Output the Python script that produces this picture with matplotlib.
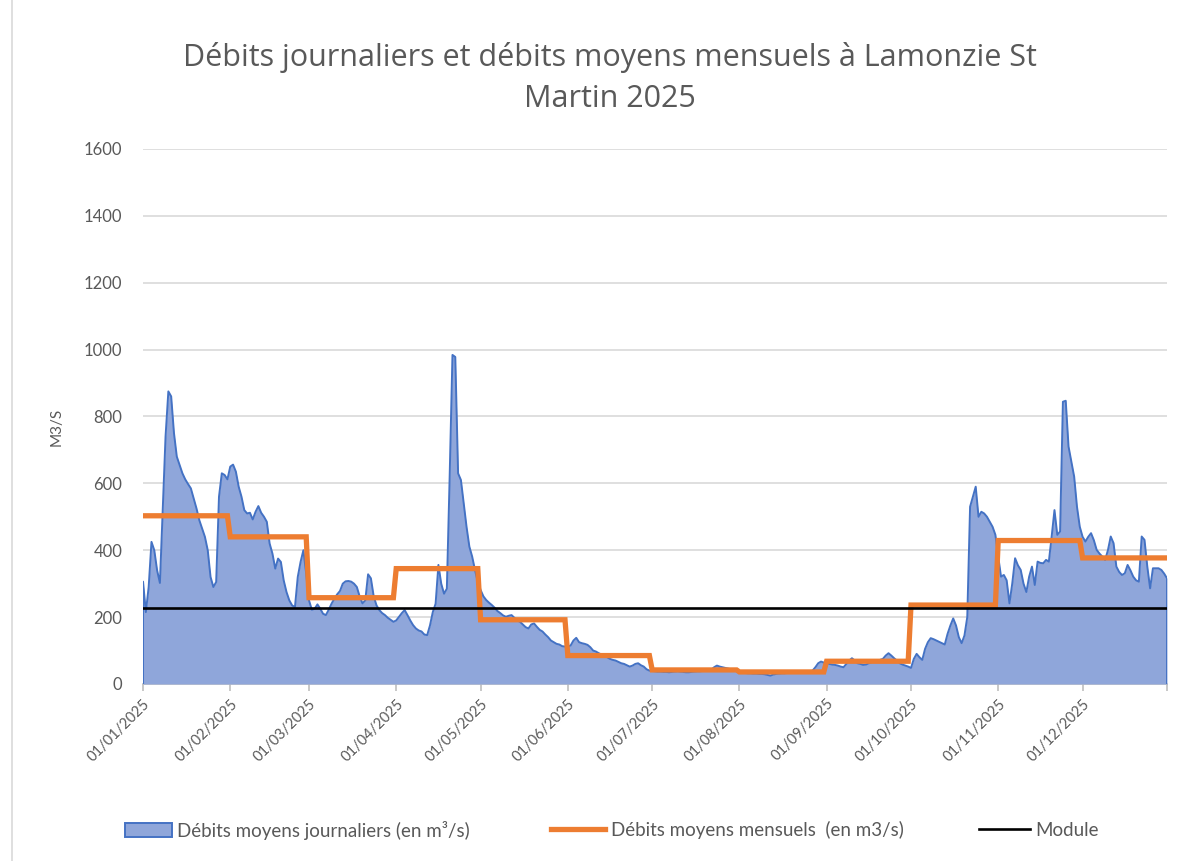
import numpy as np
import matplotlib
matplotlib.use("Agg")
import matplotlib.pyplot as plt
import matplotlib.transforms as mtransforms
from matplotlib.patches import Patch
from matplotlib.lines import Line2D

plt.rcParams['font.family'] = ['Lato', 'DejaVu Sans']

# Daily mean flows (m3/s), 2025
jan = [306, 215, 290, 425, 400, 340, 302, 520, 740, 875, 860, 750, 680, 655, 630, 612,
       598, 585, 555, 525, 490, 465, 440, 400, 320, 290, 305, 560, 630, 625, 612]
feb = [650, 656, 635, 590, 560, 520, 510, 512, 492, 515, 532, 512, 500, 485, 420, 390,
       345, 375, 365, 310, 275, 250, 235, 230, 320, 365, 400, 330]
mar = [250, 222, 225, 238, 225, 210, 206, 222, 240, 255, 268, 278, 300, 307, 308, 306,
       300, 290, 262, 241, 250, 328, 316, 262, 235, 221, 212, 206, 198, 192, 186]
apr = [190, 201, 212, 221, 206, 190, 176, 166, 160, 157, 148, 146, 175, 215, 240, 356,
       300, 270, 285, 620, 984, 978, 630, 610, 540, 470, 411, 381, 341, 305]
may = [281, 262, 251, 243, 236, 228, 218, 212, 205, 201, 204, 206, 198, 190, 186, 178,
       170, 166, 178, 181, 171, 162, 157, 148, 140, 130, 125, 120, 118, 113, 112]
jun = [112, 115, 130, 138, 125, 122, 120, 117, 110, 100, 97, 92, 88, 85, 80, 75,
       72, 70, 66, 62, 60, 56, 52, 55, 60, 62, 56, 52, 44, 40]
jul = [39, 38, 37, 37, 36, 36, 35, 36, 37, 38, 37, 36, 35, 35, 36, 37,
       38, 38, 39, 40, 41, 43, 50, 55, 52, 50, 48, 46, 44, 40, 38]
aug = [37, 35, 33, 32, 32, 31, 31, 30, 30, 29, 27, 25, 28, 30, 31, 32,
       32, 33, 33, 34, 34, 35, 35, 36, 36, 37, 40, 50, 62, 67, 64]
sep = [62, 60, 58, 57, 55, 52, 50, 60, 70, 77, 70, 62, 60, 57, 58, 62,
       65, 67, 70, 72, 75, 85, 92, 85, 77, 70, 62, 58, 55, 52]
octo = [48, 75, 90, 80, 72, 105, 125, 137, 134, 130, 126, 122, 118, 150, 175, 196,
        175, 140, 122, 145, 200, 530, 560, 590, 500, 515, 510, 500, 485, 470, 446]
nov = [381, 321, 326, 310, 241, 301, 376, 355, 341, 300, 275, 321, 351, 296, 366, 362,
       361, 371, 366, 441, 520, 446, 456, 844, 847, 710, 665, 620, 530, 470]
dec = [440, 426, 440, 451, 430, 401, 390, 381, 371, 400, 441, 421, 351, 335, 326, 331,
       356, 340, 321, 310, 306, 441, 431, 351, 286, 346, 346, 346, 341, 330, 316]

monthly_means = [503, 440, 258, 345, 192, 85, 42, 36, 68, 236, 429, 377]
module = 228

tick_labels = ["01/01/2025", "01/02/2025", "01/03/2025", "01/04/2025", "01/05/2025",
               "01/06/2025", "01/07/2025", "01/08/2025", "01/09/2025", "01/10/2025",
               "01/11/2025", "01/12/2025"]

months = [jan, feb, mar, apr, may, jun, jul, aug, sep, octo, nov, dec]
daily = np.concatenate([np.array(m, dtype=float) for m in months])
lengths = [len(m) for m in months]
starts = np.concatenate([[0], np.cumsum(lengths)[:-1]])
x = np.arange(len(daily))
monthly_daily = np.repeat(monthly_means, lengths)

gray_txt = '#595959'
fill_col = '#8FA6DA'
fig = plt.figure(figsize=(12, 8.61), dpi=100)
ax = fig.add_axes([0.1192, 0.2056, 0.8533, 0.6214])

# chart border (left edge visible)
fig.add_artist(Line2D([0.010, 0.010], [0, 1], transform=fig.transFigure,
                      color='#D9D9D9', lw=1.2))

ax.fill_between(x, daily, 0, color=fill_col, linewidth=0, zorder=2)
ax.plot(np.r_[x[0], x, x[-1]], np.r_[0, daily, 0], color='#4472C4', lw=1.4, zorder=3)
ax.plot(x, monthly_daily, color='#ED7D31', lw=3.8, zorder=4, solid_joinstyle='miter')
ax.axhline(module, color='black', lw=1.9, zorder=5)

ax.set_xlim(0, len(daily) - 1)
ax.set_ylim(0, 1600)
ax.set_yticks(np.arange(0, 1601, 200))
ax.grid(axis='y', color='#D9D9D9', lw=1.2, zorder=0)
ax.set_axisbelow(True)
for s in ['top', 'right', 'left']:
    ax.spines[s].set_visible(False)
ax.spines['bottom'].set_color('#BFBFBF')
ax.spines['bottom'].set_linewidth(1.2)
ax.spines['bottom'].set_zorder(1)

ax.set_xticks(list(starts) + [len(daily) - 1])
ax.set_xticklabels(tick_labels + [""], rotation=45, ha='right', rotation_mode='anchor',
                   fontsize=10.5, color=gray_txt)
offset = mtransforms.ScaledTranslation(6 / 100, -2 / 100, fig.dpi_scale_trans)
for lab in ax.get_xticklabels():
    lab.set_transform(lab.get_transform() + offset)
ax.tick_params(axis='x', length=5, color='#BFBFBF', width=1.2, pad=4)
ax.tick_params(axis='y', length=0, labelsize=12, labelcolor=gray_txt, pad=15)
ax.set_ylabel("M3/S", fontsize=11, color=gray_txt)
ax.yaxis.set_label_coords(-0.078, 0.48)

fig.text(0.508, 0.9095, "Débits journaliers et débits moyens mensuels à Lamonzie St\nMartin 2025",
         ha='center', va='center', fontsize=22, color=gray_txt, linespacing=1.45,
         family=['Open Sans', 'DejaVu Sans'])

handles = [Patch(facecolor=fill_col, edgecolor='#4472C4', linewidth=1.4),
           Line2D([], [], color='#ED7D31', lw=3.8),
           Line2D([], [], color='black', lw=1.9)]
labels = ["Débits moyens journaliers (en m³/s)", "Débits moyens mensuels  (en m3/s)", "Module"]
lefts = [0.104, 0.459, 0.816]
hlens = [2.5, 2.9, 2.7]
for h, l, xl, hl in zip(handles, labels, lefts, hlens):
    lg = fig.legend([h], [l], loc='center left', bbox_to_anchor=(xl, 0.036),
                    frameon=False, fontsize=13.5, handlelength=hl, handletextpad=0.3,
                    borderpad=0, borderaxespad=0)
    for t in lg.get_texts():
        t.set_color(gray_txt)

fig.savefig("out.png", dpi=100)
